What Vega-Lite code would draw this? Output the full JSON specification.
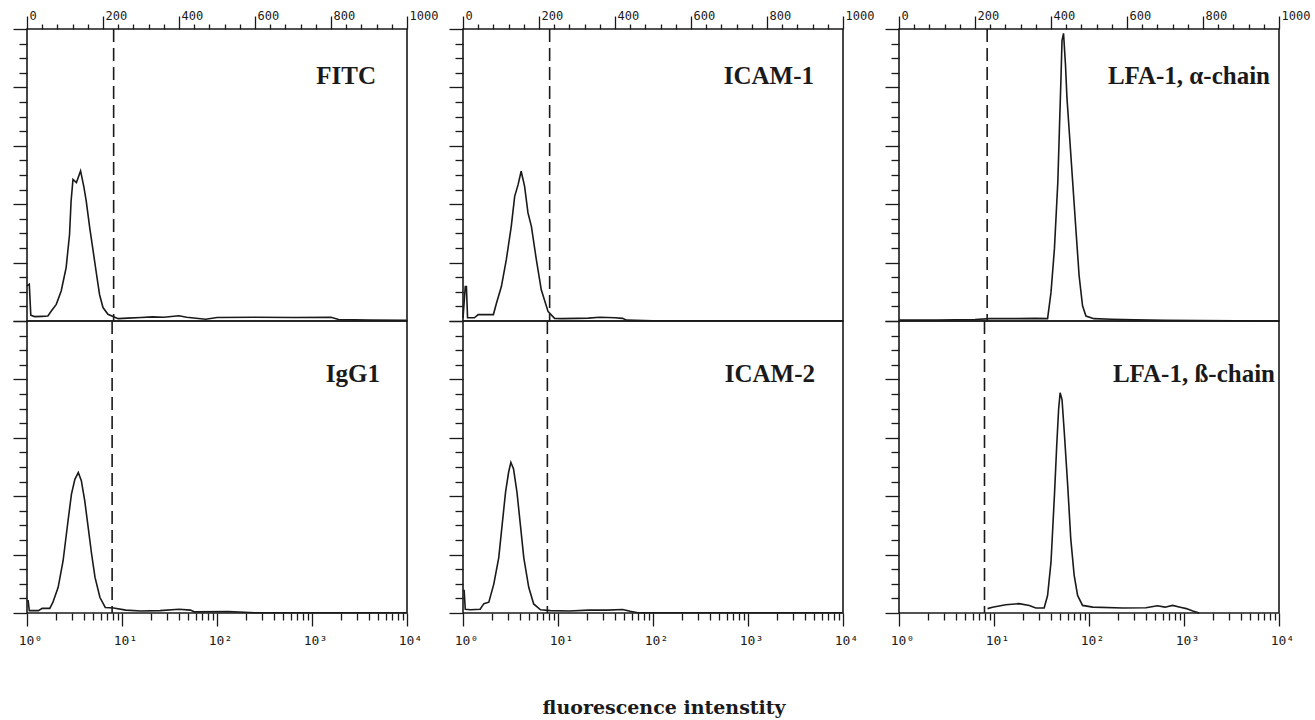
{
  "$schema": "https://vega.github.io/schema/vega-lite/v6.json",
  "padding": {"left": 11, "top": 8, "right": 4, "bottom": 4},
  "background": "white",
  "datasets": {
    "hist": [
      {"panel": "FITC", "channel": 0, "count": 12},
      {"panel": "FITC", "channel": 6, "count": 12.6},
      {"panel": "FITC", "channel": 10, "count": 2},
      {"panel": "FITC", "channel": 20, "count": 1.5},
      {"panel": "FITC", "channel": 40, "count": 1.6},
      {"panel": "FITC", "channel": 55, "count": 1.7},
      {"panel": "FITC", "channel": 64, "count": 3.4},
      {"panel": "FITC", "channel": 77, "count": 5.7},
      {"panel": "FITC", "channel": 90, "count": 10.3},
      {"panel": "FITC", "channel": 103, "count": 18.3},
      {"panel": "FITC", "channel": 112, "count": 29.7},
      {"panel": "FITC", "channel": 116, "count": 41},
      {"panel": "FITC", "channel": 121, "count": 48.5},
      {"panel": "FITC", "channel": 130, "count": 47.4},
      {"panel": "FITC", "channel": 141, "count": 51.4},
      {"panel": "FITC", "channel": 150, "count": 45.7},
      {"panel": "FITC", "channel": 156, "count": 41},
      {"panel": "FITC", "channel": 165, "count": 32},
      {"panel": "FITC", "channel": 174, "count": 24},
      {"panel": "FITC", "channel": 183, "count": 16},
      {"panel": "FITC", "channel": 191, "count": 9},
      {"panel": "FITC", "channel": 200, "count": 4.6},
      {"panel": "FITC", "channel": 213, "count": 2.3},
      {"panel": "FITC", "channel": 240, "count": 0.8},
      {"panel": "FITC", "channel": 265, "count": 1.0},
      {"panel": "FITC", "channel": 300, "count": 1.2},
      {"panel": "FITC", "channel": 330, "count": 1.4},
      {"panel": "FITC", "channel": 360, "count": 1.3},
      {"panel": "FITC", "channel": 400, "count": 1.8},
      {"panel": "FITC", "channel": 420, "count": 1.3},
      {"panel": "FITC", "channel": 470, "count": 0.6},
      {"panel": "FITC", "channel": 500, "count": 1.2},
      {"panel": "FITC", "channel": 600, "count": 1.3},
      {"panel": "FITC", "channel": 700, "count": 1.2},
      {"panel": "FITC", "channel": 800, "count": 1.3},
      {"panel": "FITC", "channel": 820, "count": 0.5},
      {"panel": "FITC", "channel": 900, "count": 0.3},
      {"panel": "FITC", "channel": 1000, "count": 0.2},

      {"panel": "ICAM-1", "channel": 0, "count": 1},
      {"panel": "ICAM-1", "channel": 6, "count": 11.8},
      {"panel": "ICAM-1", "channel": 9, "count": 11.8},
      {"panel": "ICAM-1", "channel": 12, "count": 1.1},
      {"panel": "ICAM-1", "channel": 30, "count": 1.1},
      {"panel": "ICAM-1", "channel": 40, "count": 2.2},
      {"panel": "ICAM-1", "channel": 80, "count": 2.2},
      {"panel": "ICAM-1", "channel": 88, "count": 6.1},
      {"panel": "ICAM-1", "channel": 101, "count": 11.8},
      {"panel": "ICAM-1", "channel": 114, "count": 21},
      {"panel": "ICAM-1", "channel": 127, "count": 32.4},
      {"panel": "ICAM-1", "channel": 136, "count": 42.7},
      {"panel": "ICAM-1", "channel": 145, "count": 46.7},
      {"panel": "ICAM-1", "channel": 153, "count": 51.3},
      {"panel": "ICAM-1", "channel": 162, "count": 46.2},
      {"panel": "ICAM-1", "channel": 171, "count": 37},
      {"panel": "ICAM-1", "channel": 180, "count": 32.4},
      {"panel": "ICAM-1", "channel": 193, "count": 21},
      {"panel": "ICAM-1", "channel": 206, "count": 10.7},
      {"panel": "ICAM-1", "channel": 224, "count": 3.2},
      {"panel": "ICAM-1", "channel": 241, "count": 0.9},
      {"panel": "ICAM-1", "channel": 260, "count": 0.8},
      {"panel": "ICAM-1", "channel": 300, "count": 0.9},
      {"panel": "ICAM-1", "channel": 330, "count": 1.0},
      {"panel": "ICAM-1", "channel": 360, "count": 1.3},
      {"panel": "ICAM-1", "channel": 400, "count": 1.1},
      {"panel": "ICAM-1", "channel": 420, "count": 0.9},
      {"panel": "ICAM-1", "channel": 430, "count": 0.3},
      {"panel": "ICAM-1", "channel": 500, "count": 0.1},
      {"panel": "ICAM-1", "channel": 1000, "count": 0.1},

      {"panel": "LFA-1, α-chain", "channel": 0, "count": 0.3},
      {"panel": "LFA-1, α-chain", "channel": 100, "count": 0.3},
      {"panel": "LFA-1, α-chain", "channel": 200, "count": 0.5},
      {"panel": "LFA-1, α-chain", "channel": 240, "count": 0.8},
      {"panel": "LFA-1, α-chain", "channel": 300, "count": 0.8},
      {"panel": "LFA-1, α-chain", "channel": 360, "count": 0.9},
      {"panel": "LFA-1, α-chain", "channel": 391, "count": 0.8},
      {"panel": "LFA-1, α-chain", "channel": 400, "count": 9.8},
      {"panel": "LFA-1, α-chain", "channel": 409, "count": 24.7},
      {"panel": "LFA-1, α-chain", "channel": 418, "count": 47.7},
      {"panel": "LFA-1, α-chain", "channel": 422, "count": 65},
      {"panel": "LFA-1, α-chain", "channel": 426, "count": 82},
      {"panel": "LFA-1, α-chain", "channel": 429, "count": 96},
      {"panel": "LFA-1, α-chain", "channel": 433, "count": 98.5},
      {"panel": "LFA-1, α-chain", "channel": 438, "count": 88},
      {"panel": "LFA-1, α-chain", "channel": 442, "count": 76.4},
      {"panel": "LFA-1, α-chain", "channel": 448, "count": 65},
      {"panel": "LFA-1, α-chain", "channel": 457, "count": 47.7},
      {"panel": "LFA-1, α-chain", "channel": 466, "count": 30.5},
      {"panel": "LFA-1, α-chain", "channel": 474, "count": 15.5},
      {"panel": "LFA-1, α-chain", "channel": 483, "count": 5.2},
      {"panel": "LFA-1, α-chain", "channel": 492, "count": 1.7},
      {"panel": "LFA-1, α-chain", "channel": 513, "count": 0.8},
      {"panel": "LFA-1, α-chain", "channel": 560, "count": 0.6},
      {"panel": "LFA-1, α-chain", "channel": 620, "count": 0.4},
      {"panel": "LFA-1, α-chain", "channel": 700, "count": 0.2},
      {"panel": "LFA-1, α-chain", "channel": 1000, "count": 0},

      {"panel": "IgG1", "channel": 0, "count": 4.2},
      {"panel": "IgG1", "channel": 3, "count": 4.2},
      {"panel": "IgG1", "channel": 6, "count": 0.8},
      {"panel": "IgG1", "channel": 30, "count": 0.8},
      {"panel": "IgG1", "channel": 40, "count": 1.6},
      {"panel": "IgG1", "channel": 60, "count": 1.6},
      {"panel": "IgG1", "channel": 68, "count": 3.6},
      {"panel": "IgG1", "channel": 82, "count": 8.8},
      {"panel": "IgG1", "channel": 95, "count": 17.9},
      {"panel": "IgG1", "channel": 108, "count": 31.6},
      {"panel": "IgG1", "channel": 117, "count": 40.7},
      {"panel": "IgG1", "channel": 126, "count": 45.8},
      {"panel": "IgG1", "channel": 135, "count": 48.1},
      {"panel": "IgG1", "channel": 143, "count": 45.3},
      {"panel": "IgG1", "channel": 152, "count": 38.4},
      {"panel": "IgG1", "channel": 161, "count": 29.3},
      {"panel": "IgG1", "channel": 170, "count": 20.2},
      {"panel": "IgG1", "channel": 179, "count": 12.2},
      {"panel": "IgG1", "channel": 192, "count": 5.3},
      {"panel": "IgG1", "channel": 206, "count": 1.9},
      {"panel": "IgG1", "channel": 228, "count": 1.7},
      {"panel": "IgG1", "channel": 260, "count": 1.0},
      {"panel": "IgG1", "channel": 300, "count": 0.7},
      {"panel": "IgG1", "channel": 350, "count": 0.8},
      {"panel": "IgG1", "channel": 400, "count": 1.3},
      {"panel": "IgG1", "channel": 430, "count": 1.0},
      {"panel": "IgG1", "channel": 440, "count": 0.4},
      {"panel": "IgG1", "channel": 530, "count": 0.5},
      {"panel": "IgG1", "channel": 600, "count": 0.1},
      {"panel": "IgG1", "channel": 1000, "count": 0.1},

      {"panel": "ICAM-2", "channel": 0, "count": 7.7},
      {"panel": "ICAM-2", "channel": 3, "count": 7.7},
      {"panel": "ICAM-2", "channel": 6, "count": 1.3},
      {"panel": "ICAM-2", "channel": 20, "count": 1.1},
      {"panel": "ICAM-2", "channel": 45, "count": 1.3},
      {"panel": "ICAM-2", "channel": 55, "count": 3.2},
      {"panel": "ICAM-2", "channel": 68, "count": 3.7},
      {"panel": "ICAM-2", "channel": 81, "count": 9.9},
      {"panel": "ICAM-2", "channel": 94, "count": 18.9},
      {"panel": "ICAM-2", "channel": 103, "count": 30.2},
      {"panel": "ICAM-2", "channel": 112, "count": 41.4},
      {"panel": "ICAM-2", "channel": 120, "count": 48.2},
      {"panel": "ICAM-2", "channel": 126, "count": 51.6},
      {"panel": "ICAM-2", "channel": 133, "count": 49.3},
      {"panel": "ICAM-2", "channel": 142, "count": 41.4},
      {"panel": "ICAM-2", "channel": 151, "count": 30.2},
      {"panel": "ICAM-2", "channel": 160, "count": 18.9},
      {"panel": "ICAM-2", "channel": 173, "count": 8.8},
      {"panel": "ICAM-2", "channel": 186, "count": 3.1},
      {"panel": "ICAM-2", "channel": 204, "count": 1.1},
      {"panel": "ICAM-2", "channel": 230, "count": 0.8},
      {"panel": "ICAM-2", "channel": 280, "count": 0.7},
      {"panel": "ICAM-2", "channel": 330, "count": 1.0},
      {"panel": "ICAM-2", "channel": 380, "count": 1.0},
      {"panel": "ICAM-2", "channel": 420, "count": 1.2},
      {"panel": "ICAM-2", "channel": 440, "count": 0.6},
      {"panel": "ICAM-2", "channel": 460, "count": 0.1},
      {"panel": "ICAM-2", "channel": 1000, "count": 0.1},

      {"panel": "LFA-1, ß-chain", "channel": 233, "count": 1.5},
      {"panel": "LFA-1, ß-chain", "channel": 246, "count": 2},
      {"panel": "LFA-1, ß-chain", "channel": 281, "count": 2.8},
      {"panel": "LFA-1, ß-chain", "channel": 316, "count": 3.2},
      {"panel": "LFA-1, ß-chain", "channel": 343, "count": 2.6},
      {"panel": "LFA-1, ß-chain", "channel": 360, "count": 1.7},
      {"panel": "LFA-1, ß-chain", "channel": 382, "count": 1.7},
      {"panel": "LFA-1, ß-chain", "channel": 391, "count": 6},
      {"panel": "LFA-1, ß-chain", "channel": 400, "count": 17.4},
      {"panel": "LFA-1, ß-chain", "channel": 409, "count": 40.2},
      {"panel": "LFA-1, ß-chain", "channel": 415, "count": 57.2},
      {"panel": "LFA-1, ß-chain", "channel": 420, "count": 69.7},
      {"panel": "LFA-1, ß-chain", "channel": 424, "count": 75.4},
      {"panel": "LFA-1, ß-chain", "channel": 429, "count": 73.1},
      {"panel": "LFA-1, ß-chain", "channel": 435, "count": 61.8},
      {"panel": "LFA-1, ß-chain", "channel": 444, "count": 43.6},
      {"panel": "LFA-1, ß-chain", "channel": 452, "count": 25.4},
      {"panel": "LFA-1, ß-chain", "channel": 461, "count": 12.9},
      {"panel": "LFA-1, ß-chain", "channel": 470, "count": 6},
      {"panel": "LFA-1, ß-chain", "channel": 483, "count": 2.6},
      {"panel": "LFA-1, ß-chain", "channel": 510, "count": 2},
      {"panel": "LFA-1, ß-chain", "channel": 589, "count": 1.7},
      {"panel": "LFA-1, ß-chain", "channel": 650, "count": 1.8},
      {"panel": "LFA-1, ß-chain", "channel": 680, "count": 2.5},
      {"panel": "LFA-1, ß-chain", "channel": 700, "count": 2.0},
      {"panel": "LFA-1, ß-chain", "channel": 720, "count": 2.6},
      {"panel": "LFA-1, ß-chain", "channel": 740, "count": 2.0},
      {"panel": "LFA-1, ß-chain", "channel": 756, "count": 1.5},
      {"panel": "LFA-1, ß-chain", "channel": 773, "count": 0.7},
      {"panel": "LFA-1, ß-chain", "channel": 790, "count": 0}
    ],
    "gates": [
      {"panel": "FITC", "channel": 228},
      {"panel": "IgG1", "channel": 224},
      {"panel": "ICAM-1", "channel": 228},
      {"panel": "ICAM-2", "channel": 222},
      {"panel": "LFA-1, α-chain", "channel": 232},
      {"panel": "LFA-1, ß-chain", "channel": 225}
    ]
  },
  "title": {
    "text": "fluorescence intenstity",
    "orient": "bottom",
    "anchor": "middle",
    "frame": "bounds",
    "offset": 51,
    "dx": 3,
    "font": "DejaVu Serif",
    "fontSize": 19,
    "fontWeight": "bold",
    "color": "#1a1a1a"
  },
  "spacing": 8,
  "hconcat": [
    {
      "spacing": 0,
      "bounds": "flush",
      "vconcat": [
        {
          "width": 380, "height": 292,
          "title": {"text": "FITC", "dx": -31, "offset": -80},
          "encoding": {"x": {"field": "channel", "type": "quantitative", "scale": {"domain": [0, 1000], "nice": false},
            "axis": {"orient": "top", "values": [0,40,80,120,160,200,240,280,320,360,400,440,480,520,560,600,640,680,720,760,800,840,880,920,960,1000],
              "labelExpr": "datum.value % 200 === 0 ? '' + datum.value : ''",
              "tickSize": {"condition": {"test": "datum.value % 200 === 0", "value": 13}, "value": 5},
              "labelAlign": "left", "labelBaseline": "bottom", "labelPadding": -6, "labelOffset": 2,
              "labelFlush": false, "labelOverlap": false, "labelBound": false, "domain": false, "grid": false, "title": null}}},
          "layer": [
            {"data": {"name": "gates"}, "transform": [{"filter": "datum.panel === 'FITC'"}],
             "mark": {"type": "rule", "strokeDash": [13, 6], "strokeWidth": 1.6, "color": "#1a1a1a"}},
            {"data": {"name": "hist"}, "transform": [{"filter": "datum.panel === 'FITC'"}],
             "mark": {"type": "line", "strokeWidth": 1.6, "color": "#1a1a1a", "interpolate": "linear"},
             "encoding": {"y": {"field": "count", "type": "quantitative", "scale": {"domain": [0, 100], "nice": false},
               "axis": {"orient": "left", "values": [0,5,10,15,20,25,30,35,40,45,50,55,60,65,70,75,80,85,90,95,100], "labels": false, "domain": false, "grid": false, "title": null,
                 "tickSize": {"condition": {"test": "datum.value % 20 === 0", "value": 14}, "value": 8}}}}}
          ]
        },
        {
          "width": 380, "height": 292,
          "title": {"text": "IgG1", "dx": -27, "offset": -67},
          "encoding": {"x": {"field": "channel", "type": "quantitative", "scale": {"domain": [0, 1000], "nice": false},
            "axis": {"orient": "bottom", "values": [0,75.26,119.28,150.51,174.74,194.54,211.27,225.77,238.56,250,325.26,369.28,400.51,424.74,444.54,461.27,475.77,488.56,500,575.26,619.28,650.51,674.74,694.54,711.27,725.77,738.56,750,825.26,869.28,900.51,924.74,944.54,961.27,975.77,988.56,1000],
              "labelExpr": "datum.value % 250 === 0 ? ['10⁰','10¹','10²','10³','10⁴'][datum.value / 250] : ''",
              "tickSize": {"condition": {"test": "datum.value % 250 === 0", "value": 13}, "value": 7},
              "labelPadding": 8, "labelOffset": 3, "labelFontSize": 13,
              "labelFlush": false, "labelOverlap": false, "labelBound": false, "domain": false, "grid": false, "title": null}}},
          "layer": [
            {"data": {"name": "gates"}, "transform": [{"filter": "datum.panel === 'IgG1'"}],
             "mark": {"type": "rule", "strokeDash": [13, 6], "strokeWidth": 1.6, "color": "#1a1a1a"}},
            {"data": {"name": "hist"}, "transform": [{"filter": "datum.panel === 'IgG1'"}],
             "mark": {"type": "line", "strokeWidth": 1.6, "color": "#1a1a1a", "interpolate": "linear"},
             "encoding": {"y": {"field": "count", "type": "quantitative", "scale": {"domain": [0, 100], "nice": false},
               "axis": {"orient": "left", "values": [0,5,10,15,20,25,30,35,40,45,50,55,60,65,70,75,80,85,90,95,100], "labels": false, "domain": false, "grid": false, "title": null,
                 "tickSize": {"condition": {"test": "datum.value % 20 === 0", "value": 14}, "value": 8}}}}}
          ]
        }
      ]
    },
    {
      "spacing": 0,
      "bounds": "flush",
      "vconcat": [
        {
          "width": 380, "height": 292,
          "title": {"text": "ICAM-1", "dx": -29, "offset": -80},
          "encoding": {"x": {"field": "channel", "type": "quantitative", "scale": {"domain": [0, 1000], "nice": false},
            "axis": {"orient": "top", "values": [0,40,80,120,160,200,240,280,320,360,400,440,480,520,560,600,640,680,720,760,800,840,880,920,960,1000],
              "labelExpr": "datum.value % 200 === 0 ? '' + datum.value : ''",
              "tickSize": {"condition": {"test": "datum.value % 200 === 0", "value": 13}, "value": 5},
              "labelAlign": "left", "labelBaseline": "bottom", "labelPadding": -6, "labelOffset": 2,
              "labelFlush": false, "labelOverlap": false, "labelBound": false, "domain": false, "grid": false, "title": null}}},
          "layer": [
            {"data": {"name": "gates"}, "transform": [{"filter": "datum.panel === 'ICAM-1'"}],
             "mark": {"type": "rule", "strokeDash": [13, 6], "strokeWidth": 1.6, "color": "#1a1a1a"}},
            {"data": {"name": "hist"}, "transform": [{"filter": "datum.panel === 'ICAM-1'"}],
             "mark": {"type": "line", "strokeWidth": 1.6, "color": "#1a1a1a", "interpolate": "linear"},
             "encoding": {"y": {"field": "count", "type": "quantitative", "scale": {"domain": [0, 100], "nice": false},
               "axis": {"orient": "left", "values": [0,5,10,15,20,25,30,35,40,45,50,55,60,65,70,75,80,85,90,95,100], "labels": false, "domain": false, "grid": false, "title": null,
                 "tickSize": {"condition": {"test": "datum.value % 20 === 0", "value": 14}, "value": 8}}}}}
          ]
        },
        {
          "width": 380, "height": 292,
          "title": {"text": "ICAM-2", "dx": -28, "offset": -67},
          "encoding": {"x": {"field": "channel", "type": "quantitative", "scale": {"domain": [0, 1000], "nice": false},
            "axis": {"orient": "bottom", "values": [0,75.26,119.28,150.51,174.74,194.54,211.27,225.77,238.56,250,325.26,369.28,400.51,424.74,444.54,461.27,475.77,488.56,500,575.26,619.28,650.51,674.74,694.54,711.27,725.77,738.56,750,825.26,869.28,900.51,924.74,944.54,961.27,975.77,988.56,1000],
              "labelExpr": "datum.value % 250 === 0 ? ['10⁰','10¹','10²','10³','10⁴'][datum.value / 250] : ''",
              "tickSize": {"condition": {"test": "datum.value % 250 === 0", "value": 13}, "value": 7},
              "labelPadding": 8, "labelOffset": 3, "labelFontSize": 13,
              "labelFlush": false, "labelOverlap": false, "labelBound": false, "domain": false, "grid": false, "title": null}}},
          "layer": [
            {"data": {"name": "gates"}, "transform": [{"filter": "datum.panel === 'ICAM-2'"}],
             "mark": {"type": "rule", "strokeDash": [13, 6], "strokeWidth": 1.6, "color": "#1a1a1a"}},
            {"data": {"name": "hist"}, "transform": [{"filter": "datum.panel === 'ICAM-2'"}],
             "mark": {"type": "line", "strokeWidth": 1.6, "color": "#1a1a1a", "interpolate": "linear"},
             "encoding": {"y": {"field": "count", "type": "quantitative", "scale": {"domain": [0, 100], "nice": false},
               "axis": {"orient": "left", "values": [0,5,10,15,20,25,30,35,40,45,50,55,60,65,70,75,80,85,90,95,100], "labels": false, "domain": false, "grid": false, "title": null,
                 "tickSize": {"condition": {"test": "datum.value % 20 === 0", "value": 14}, "value": 8}}}}}
          ]
        }
      ]
    },
    {
      "spacing": 0,
      "bounds": "flush",
      "vconcat": [
        {
          "width": 380, "height": 292,
          "title": {"text": "LFA-1, α-chain", "dx": -9, "offset": -80},
          "encoding": {"x": {"field": "channel", "type": "quantitative", "scale": {"domain": [0, 1000], "nice": false},
            "axis": {"orient": "top", "values": [0,40,80,120,160,200,240,280,320,360,400,440,480,520,560,600,640,680,720,760,800,840,880,920,960,1000],
              "labelExpr": "datum.value % 200 === 0 ? '' + datum.value : ''",
              "tickSize": {"condition": {"test": "datum.value % 200 === 0", "value": 13}, "value": 5},
              "labelAlign": "left", "labelBaseline": "bottom", "labelPadding": -6, "labelOffset": 2,
              "labelFlush": false, "labelOverlap": false, "labelBound": false, "domain": false, "grid": false, "title": null}}},
          "layer": [
            {"data": {"name": "gates"}, "transform": [{"filter": "datum.panel === 'LFA-1, α-chain'"}],
             "mark": {"type": "rule", "strokeDash": [13, 6], "strokeWidth": 1.6, "color": "#1a1a1a"}},
            {"data": {"name": "hist"}, "transform": [{"filter": "datum.panel === 'LFA-1, α-chain'"}],
             "mark": {"type": "line", "strokeWidth": 1.6, "color": "#1a1a1a", "interpolate": "linear"},
             "encoding": {"y": {"field": "count", "type": "quantitative", "scale": {"domain": [0, 100], "nice": false},
               "axis": {"orient": "left", "values": [0,5,10,15,20,25,30,35,40,45,50,55,60,65,70,75,80,85,90,95,100], "labels": false, "domain": false, "grid": false, "title": null,
                 "tickSize": {"condition": {"test": "datum.value % 20 === 0", "value": 14}, "value": 8}}}}}
          ]
        },
        {
          "width": 380, "height": 292,
          "title": {"text": "LFA-1, ß-chain", "dx": -4, "offset": -67},
          "encoding": {"x": {"field": "channel", "type": "quantitative", "scale": {"domain": [0, 1000], "nice": false},
            "axis": {"orient": "bottom", "values": [0,75.26,119.28,150.51,174.74,194.54,211.27,225.77,238.56,250,325.26,369.28,400.51,424.74,444.54,461.27,475.77,488.56,500,575.26,619.28,650.51,674.74,694.54,711.27,725.77,738.56,750,825.26,869.28,900.51,924.74,944.54,961.27,975.77,988.56,1000],
              "labelExpr": "datum.value % 250 === 0 ? ['10⁰','10¹','10²','10³','10⁴'][datum.value / 250] : ''",
              "tickSize": {"condition": {"test": "datum.value % 250 === 0", "value": 13}, "value": 7},
              "labelPadding": 8, "labelOffset": 3, "labelFontSize": 13,
              "labelFlush": false, "labelOverlap": false, "labelBound": false, "domain": false, "grid": false, "title": null}}},
          "layer": [
            {"data": {"name": "gates"}, "transform": [{"filter": "datum.panel === 'LFA-1, ß-chain'"}],
             "mark": {"type": "rule", "strokeDash": [13, 6], "strokeWidth": 1.6, "color": "#1a1a1a"}},
            {"data": {"name": "hist"}, "transform": [{"filter": "datum.panel === 'LFA-1, ß-chain'"}],
             "mark": {"type": "line", "strokeWidth": 1.6, "color": "#1a1a1a", "interpolate": "linear"},
             "encoding": {"y": {"field": "count", "type": "quantitative", "scale": {"domain": [0, 100], "nice": false},
               "axis": {"orient": "left", "values": [0,5,10,15,20,25,30,35,40,45,50,55,60,65,70,75,80,85,90,95,100], "labels": false, "domain": false, "grid": false, "title": null,
                 "tickSize": {"condition": {"test": "datum.value % 20 === 0", "value": 14}, "value": 8}}}}}
          ]
        }
      ]
    }
  ],
  "config": {
    "view": {"stroke": "#1a1a1a", "strokeWidth": 1.6},
    "axis": {"tickColor": "#1a1a1a", "tickWidth": 1.3, "labelColor": "#1a1a1a", "labelFont": "DejaVu Sans Mono", "labelFontSize": 12},
    "title": {"anchor": "end", "frame": "group", "orient": "top", "font": "Liberation Serif", "fontSize": 25, "fontWeight": "bold", "color": "#1a1a1a"}
  }
}
